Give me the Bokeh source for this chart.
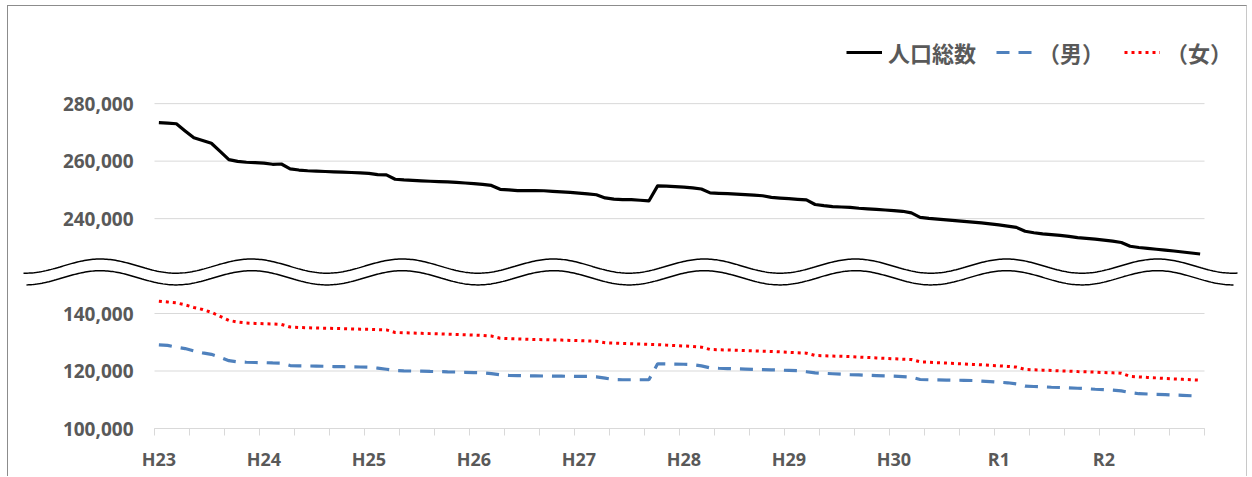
import numpy as np
from bokeh.plotting import figure
from bokeh.models import FixedTicker, Legend, LegendItem
from bokeh.embed import file_html
from bokeh.resources import INLINE

# ---- data (monthly, H23 .. R2) ----
year_labels = ["H23", "H24", "H25", "H26", "H27", "H28", "H29", "H30", "R1", "R2"]

total = [
    273400, 273200, 273000, 270500, 268100, 267200, 266200, 263400, 260500, 259900,
    259600, 259500, 259300, 258900, 259000, 257300, 256900, 256650, 256500, 256400,
    256250, 256150, 256050, 255900, 255750, 255300, 255200, 253700, 253450, 253300,
    253150, 253000, 252900, 252750, 252600, 252400, 252200, 251900, 251550, 250200,
    250000, 249750, 249750, 249750, 249700, 249500, 249300, 249100, 248850, 248600,
    248300, 247200, 246800, 246600, 246600, 246400, 246150, 251400, 251300, 251150,
    250950, 250700, 250300, 248950, 248800, 248700, 248550, 248350, 248200, 247950,
    247400, 247150, 246950, 246700, 246500, 244900, 244500, 244200, 244050, 243900,
    243600, 243400, 243200, 243000, 242800, 242550, 242000, 240450, 240100, 239850,
    239550, 239300, 239050, 238800, 238500, 238150, 237800, 237400, 236950, 235600,
    235100, 234700, 234450, 234150, 233800, 233400, 233150, 232850, 232500, 232150,
    231700, 230400, 229950, 229650, 229350, 229050, 228750, 228400, 228050, 227700,
]

male = [
    129100, 128900, 128300, 127800, 127000, 126300, 125800, 124800, 123600, 123200,
    123050, 122950, 122900, 122800, 122750, 121900, 121800, 121750, 121700, 121650,
    121550, 121500, 121450, 121400, 121300, 121000, 120600, 120150, 120050, 120000,
    119950, 119850, 119800, 119700, 119650, 119550, 119450, 119380, 119100, 118700,
    118450, 118400, 118350, 118300, 118250, 118200, 118200, 118150, 118100, 118100,
    117950, 117500, 117000, 116950, 116950, 116950, 116950, 122500, 122450, 122400,
    122350, 122250, 121800, 121100, 120950, 120850, 120750, 120650, 120550, 120500,
    120400, 120300, 120200, 120100, 119750, 119350, 119200, 119050, 118900, 118750,
    118650, 118500, 118400, 118300, 118200, 118050, 117850, 117050, 116950, 116900,
    116850, 116800, 116750, 116700, 116500, 116300, 116100, 115900, 115500, 114750,
    114600, 114500, 114350, 114250, 114150, 114000, 113850, 113650, 113500, 113350,
    113100, 112500, 112100, 112000, 111900, 111800, 111650, 111550, 111400, 111250,
]

female = [
    144300, 144000, 143700, 143000, 142100, 141400, 140400, 139000, 137600, 137000,
    136700, 136550, 136450, 136350, 136200, 135300, 135150, 135050, 134950, 134900,
    134800, 134750, 134650, 134550, 134500, 134400, 134300, 133400, 133300, 133200,
    133100, 133000, 132900, 132800, 132700, 132600, 132500, 132350, 132150, 131400,
    131250, 131150, 131050, 130950, 130900, 130800, 130750, 130650, 130550, 130450,
    130350, 129800, 129700, 129600, 129500, 129350, 129250, 129150, 129000, 128850,
    128700, 128550, 128300, 127500, 127400, 127300, 127200, 127100, 127000, 126900,
    126800, 126650, 126500, 126350, 126200, 125400, 125300, 125200, 125100, 125000,
    124850, 124700, 124550, 124400, 124250, 124100, 124000, 123200, 123050, 122900,
    122750, 122600, 122450, 122300, 122150, 121950, 121800, 121600, 121350, 120550,
    120400, 120300, 120200, 120050, 119950, 119800, 119700, 119600, 119450, 119350,
    119250, 118150, 117950, 117750, 117600, 117400, 117250, 117100, 116950, 116800,
]

y_tick_values = [100000, 120000, 140000, 240000, 260000, 280000]
legend_labels = ["人口総数", "（男）", "（女）"]

# ---- broken axis: the upper band is drawn shifted down by a fixed offset ----
BREAK_OFFSET = 67000
BREAK_AT = 200000


def to_plot(v):
    return v - BREAK_OFFSET if v >= BREAK_AT else v


n = len(total)
x = np.arange(n) + 0.5
total_plot = [to_plot(v) for v in total]

GRAY = "#595959"
GRID = "#d9d9d9"

W, H = 1240, 471
PX_X = 8.75              # px per month
PX_Y = 57.5 / 20000      # px per person
X0_PX = 146              # frame-left offset of month 0
Y_BASE_PX = 422          # canvas y of the 100,000 line

x_lo = -X0_PX / PX_X
x_hi = (W - X0_PX) / PX_X
y_lo = 100000 - (H - Y_BASE_PX) / PX_Y
y_hi = 100000 + Y_BASE_PX / PX_Y

p = figure(
    width=W, height=H, x_range=(x_lo, x_hi), y_range=(y_lo, y_hi),
    output_backend="svg", toolbar_location=None, title=None,
    min_border_left=0, min_border_right=0, min_border_top=0, min_border_bottom=0,
)
p.outline_line_color = None
p.background_fill_color = "white"
p.border_fill_color = "white"
p.styles = {
    "margin-left": "7px",
    "margin-top": "5px",
    "border-left": "1px solid #8c8c8c",
    "border-top": "1px solid #8c8c8c",
    "border-right": "1px solid #c8c8c8",
}
p.grid.visible = False

# horizontal gridlines (only across the plotted months)
yt = [to_plot(v) for v in y_tick_values]
p.segment(x0=[0] * len(yt), y0=yt, x1=[n] * len(yt), y1=yt, line_color=GRID, line_width=1)

# y axis pinned at month 0
p.yaxis.fixed_location = 0
p.yaxis.ticker = FixedTicker(ticks=yt)
p.yaxis.major_label_overrides = {t: f"{v:,}" for t, v in zip(yt, y_tick_values)}
p.yaxis.axis_line_color = None
p.yaxis.major_tick_line_color = None
p.yaxis.minor_tick_line_color = None
p.yaxis.major_tick_out = 0
p.yaxis.major_tick_in = 0
p.yaxis.major_label_standoff = 21
p.yaxis.major_label_text_font = "Open Sans"
p.yaxis.major_label_text_font_style = "bold"
p.yaxis.major_label_text_font_size = "19px"
p.yaxis.major_label_text_color = GRAY

# x axis pinned at 100,000
xt = [12 * j + 0.5 for j in range(len(year_labels))]
p.xaxis.fixed_location = 100000
p.xaxis.bounds = (0, n)
p.xaxis.ticker = FixedTicker(ticks=xt, minor_ticks=list(range(0, n + 1, 4)))
p.xaxis.major_label_overrides = {t: lab for t, lab in zip(xt, year_labels)}
p.xaxis.axis_line_color = GRID
p.xaxis.major_tick_line_color = None
p.xaxis.major_tick_out = 0
p.xaxis.major_tick_in = 0
p.xaxis.minor_tick_line_color = GRID
p.xaxis.minor_tick_out = 7
p.xaxis.minor_tick_in = 0
p.xaxis.major_label_standoff = 11
p.xaxis.major_label_text_font = "Open Sans"
p.xaxis.major_label_text_font_style = "bold"
p.xaxis.major_label_text_font_size = "18px"
p.xaxis.major_label_text_color = GRAY

# series
r_total = p.line(x, total_plot, line_color="black", line_width=3.2, line_join="round")
r_female = p.line(x, female, line_color="#FF0000", line_width=3, line_dash="3 4")
r_male = p.line(x, male, line_color="#4F81BD", line_width=3.2, line_dash="13 9")

# wavy break marks (decoration)
period = 151 / PX_X
phase = -54 / PX_X
amp = 7.1 / PX_Y
for x0, x1, c_px in [(-131 / PX_X, 1083 / PX_X, 162.4), (-128 / PX_X, 1079 / PX_X, 150.7)]:
    xw = np.linspace(x0, x1, 700)
    yw = 100000 + c_px / PX_Y + amp * np.cos(2 * np.pi * (xw - phase) / period)
    p.line(xw, yw, line_color="black", line_width=1.5)

legend = Legend(
    items=[LegendItem(label=legend_labels[0], renderers=[r_total]),
           LegendItem(label=legend_labels[1], renderers=[r_male]),
           LegendItem(label=legend_labels[2], renderers=[r_female])],
    orientation="horizontal", location=(838, 409),
    border_line_color=None, background_fill_alpha=0,
    label_text_font="Noto Sans CJK JP", label_text_font_style="bold",
    label_text_font_size="22px", label_text_color=GRAY,
    glyph_width=36, label_standoff=6, spacing=20, padding=4, margin=0,
)
p.add_layout(legend)

open("out.html", "w").write(file_html(p, INLINE))
